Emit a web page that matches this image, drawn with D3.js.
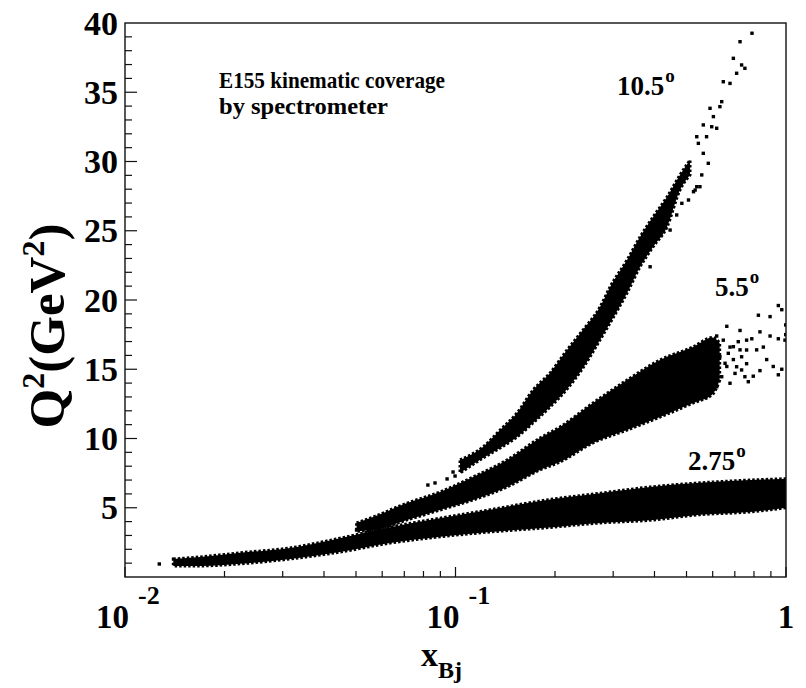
<!DOCTYPE html>
<html>
<head>
<meta charset="utf-8">
<script src="https://cdn.jsdelivr.net/npm/d3@7"></script>
<style>
  html, body { margin: 0; padding: 0; background: #fff; }
  svg { display: block; }
  text { font-family: "Liberation Serif", "Times New Roman", serif; font-weight: bold; fill: #000; }
</style>
</head>
<body>
<svg id="chart" width="806" height="688"></svg>
<script>
// ---------------- data ----------------
// Dense band envelopes: x_Bj samples with lower / upper Q^2 (GeV^2)
const band275X  = [0.0140, 0.0169, 0.0223, 0.0316, 0.0447, 0.0634, 0.0898, 0.127, 0.187, 0.274, 0.388, 0.549, 0.778, 1.0];
const band275Lo = [0.80, 0.80, 0.95, 1.30, 1.80, 2.45, 2.90, 3.25, 3.55, 3.90, 4.10, 4.50, 4.70, 5.00];
const band275Hi = [1.30, 1.45, 1.75, 2.10, 2.80, 3.60, 4.25, 4.85, 5.55, 6.05, 6.50, 6.80, 7.00, 7.10];

const band55X  = [0.0502, 0.0563, 0.0714, 0.0898, 0.113, 0.1432, 0.1802, 0.207, 0.2606, 0.3304, 0.4157, 0.5232, 0.6000, 0.6300];
const band55Lo = [3.30, 3.39, 4.12, 4.84, 5.56, 6.50, 7.73, 8.30, 9.68, 10.61, 11.55, 12.56, 13.20, 14.20];
const band55Hi = [3.90, 4.33, 5.34, 6.14, 7.22, 8.45, 10.04, 10.83, 12.56, 14.22, 15.67, 16.61, 17.30, 16.90];

const band105X  = [0.1032, 0.1211, 0.1364, 0.1535, 0.1716, 0.1932, 0.2175, 0.2430, 0.2736, 0.2935, 0.3304, 0.3616, 0.3959, 0.4364, 0.4778, 0.5124];
const band105Lo = [7.51, 8.59, 9.31, 10.11, 11.12, 12.27, 13.57, 15.09, 17.11, 18.34, 20.51, 22.38, 23.83, 25.27, 27.94, 29.03];
const band105Hi = [8.45, 9.39, 10.61, 11.84, 13.50, 14.73, 16.39, 17.83, 19.49, 20.94, 22.89, 24.55, 25.99, 27.44, 29.03, 30.11];

// Individual sparse events
const sparse105X  = [0.789, 0.726, 0.693, 0.734, 0.751, 0.709, 0.646, 0.677, 0.639, 0.631, 0.589, 0.603, 0.562, 0.617, 0.596, 0.537, 0.575, 0.543, 0.562, 0.582, 0.556, 0.549, 0.531,
                     0.388, 0.366, 0.446, 0.467, 0.484, 0.507, 0.525, 0.537, 0.0825, 0.0867, 0.0943, 0.0983, 0.0997];
const sparse105Q2 = [39.26, 38.65, 37.45, 36.97, 36.73, 36.37, 35.76, 35.64, 34.32, 33.96, 33.84, 33.24, 32.64, 32.40, 32.51, 31.79, 31.79, 31.31, 30.59, 29.87, 29.03, 28.18, 27.94,
                     22.40, 23.13, 25.05, 26.14, 26.98, 27.22, 27.82, 28.18, 6.64, 6.79, 7.08, 7.58, 7.29];

const sparse55X  = [0.948, 0.971, 0.825, 0.895, 0.998, 0.895, 0.948, 0.834, 0.788, 0.854, 0.874, 0.915, 0.971, 0.948, 0.834, 0.796, 0.760, 0.734, 0.693, 0.662,
                    0.701, 0.726, 0.677, 0.646, 0.617, 0.662, 0.726, 0.760, 0.815, 0.993, 0.998, 0.0502, 0.052, 0.0545,
                    0.596, 0.617, 0.631, 0.654, 0.669, 0.693, 0.709, 0.734, 0.751, 0.769, 0.639, 0.677, 0.617, 0.717, 0.760];
const sparse55Q2 = [19.6, 19.3, 18.9, 18.8, 18.2, 17.4, 17.2, 17.7, 17.2, 16.6, 15.7, 15.2, 15.0, 14.6, 14.9, 14.5, 15.4, 15.9, 15.7, 15.2,
                    14.7, 16.4, 16.6, 17.1, 17.4, 18.1, 17.8, 17.1, 16.4, 17.1, 17.5, 3.39, 3.63, 3.75,
                    17.11, 16.63, 15.91, 15.43, 16.15, 16.63, 15.18, 14.95, 14.46, 14.10, 14.46, 13.99, 13.74, 16.99, 16.39];

const sparse275X  = [0.0127];
const sparse275Q2 = [0.94];

// Axis ticks and labels
const yTickValues = [5, 10, 15, 20, 25, 30, 35, 40];
const xTickValues = [0.01, 0.1, 1];
const xTickBase   = ["10", "10", "1"];
const xTickExp    = ["-2", "-1", ""];
const angleLabels = ["10.5", "5.5", "2.75"];
const titleLines  = ["E155 kinematic coverage", "by spectrometer"];

// ---------------- drawing ----------------
const svg = d3.select("#chart");
const L = 125, R = 786, T = 23, B = 577;

const x = d3.scaleLog().domain([0.01, 1]).range([L, R]);
const y = d3.scaleLinear().domain([0, 40]).range([B, T]);

svg.append("clipPath").attr("id", "plotclip")
  .append("rect").attr("x", L).attr("y", T).attr("width", R - L).attr("height", B - T);

const plot = svg.append("g").attr("clip-path", "url(#plotclip)");

function bandData(xs, lo, hi) { return xs.map((v, i) => ({ x: v, lo: lo[i], hi: hi[i] })); }
const area = d3.area()
  .x(d => x(d.x)).y0(d => y(d.lo)).y1(d => y(d.hi))
  .curve(d3.curveMonotoneX);

const bands = [
  bandData(band275X, band275Lo, band275Hi),
  bandData(band55X, band55Lo, band55Hi),
  bandData(band105X, band105Lo, band105Hi)
];
plot.selectAll("path.band").data(bands).join("path")
  .attr("class", "band")
  .attr("d", area)
  .attr("fill", "#000")
  .attr("stroke", "#000")
  .attr("stroke-width", 3)
  .attr("stroke-dasharray", "2.5 2")
  .attr("stroke-linejoin", "miter");

const sparse = [];
sparse105X.forEach((v, i) => sparse.push({ x: v, q: sparse105Q2[i] }));
sparse55X.forEach((v, i) => sparse.push({ x: v, q: sparse55Q2[i] }));
sparse275X.forEach((v, i) => sparse.push({ x: v, q: sparse275Q2[i] }));
const ds = 3.4;
plot.selectAll("rect.pt").data(sparse).join("rect")
  .attr("class", "pt")
  .attr("x", d => x(d.x) - ds / 2).attr("y", d => y(d.q) - ds / 2)
  .attr("width", ds).attr("height", ds).attr("fill", "#000");

// frame
svg.append("rect").attr("x", L).attr("y", T).attr("width", R - L).attr("height", B - T)
  .attr("fill", "none").attr("stroke", "#111").attr("stroke-width", 1.4);

// y ticks (inward)
const yMinor = d3.range(1, 40);
svg.append("g").selectAll("line").data(yMinor).join("line")
  .attr("x1", L).attr("x2", d => L + (d % 5 === 0 ? 12 : 7))
  .attr("y1", d => y(d)).attr("y2", d => y(d))
  .attr("stroke", "#111").attr("stroke-width", 1.2);

svg.append("g").selectAll("text").data(yTickValues).join("text")
  .attr("x", L - 7).attr("y", d => y(d))
  .attr("dy", "0.34em")
  .attr("text-anchor", "end")
  .attr("font-size", 34)
  .text(d => d);

// x ticks (inward)
const xMinor = [];
[0.01, 0.1].forEach(dec => { for (let k = 2; k <= 9; k++) xMinor.push(dec * k); });
svg.append("g").selectAll("line").data(xMinor).join("line")
  .attr("x1", d => x(d)).attr("x2", d => x(d))
  .attr("y1", B).attr("y2", B - 6)
  .attr("stroke", "#111").attr("stroke-width", 1.2);
svg.append("g").selectAll("line").data(xTickValues).join("line")
  .attr("x1", d => x(d)).attr("x2", d => x(d))
  .attr("y1", B).attr("y2", B - 10)
  .attr("stroke", "#111").attr("stroke-width", 1.2);

const xl = svg.append("g").selectAll("text").data(xTickValues).join("text")
  .attr("x", (d, i) => x(d) + (xTickExp[i] ? -29 : 0))
  .attr("y", 628)
  .attr("text-anchor", (d, i) => xTickExp[i] ? "start" : "middle")
  .attr("font-size", 33);
xl.append("tspan").text((d, i) => xTickBase[i]);
xl.append("tspan").attr("dx", 9).attr("dy", -24).attr("font-size", 26).text((d, i) => xTickExp[i]);

// axis titles
const xt = svg.append("text").attr("x", 421).attr("y", 666).attr("font-size", 34);
xt.append("tspan").text("x");
xt.append("tspan").attr("dy", 12).attr("font-size", 24).text("Bj");

const yt = svg.append("text")
  .attr("transform", "translate(64,326) rotate(-90)")
  .attr("text-anchor", "middle")
  .attr("font-size", 51);
yt.append("tspan").text("Q");
yt.append("tspan").attr("dy", -20).attr("font-size", 32).text("2");
yt.append("tspan").attr("dy", 20).text("(GeV");
yt.append("tspan").attr("dy", -20).attr("font-size", 32).text("2");
yt.append("tspan").attr("dy", 20).text(")");

// annotation
const titleLen = [226, 169];
svg.append("g").selectAll("text").data(titleLines).join("text")
  .attr("x", 219).attr("y", (d, i) => 88 + i * 26)
  .attr("font-size", 23.5)
  .attr("textLength", (d, i) => titleLen[i])
  .attr("lengthAdjust", "spacingAndGlyphs")
  .text(d => d);

// angle labels placed in data coordinates
const anglePos = [[0.308, 34.8], [0.610, 20.3], [0.505, 7.75]];
const al = svg.append("g").selectAll("text").data(angleLabels).join("text")
  .attr("x", (d, i) => x(anglePos[i][0]))
  .attr("y", (d, i) => y(anglePos[i][1]))
  .attr("font-size", 27);
al.append("tspan").text(d => d);
al.append("tspan").attr("dx", 1).attr("dy", -13).attr("font-size", 19).text("o");
</script>
</body>
</html>
